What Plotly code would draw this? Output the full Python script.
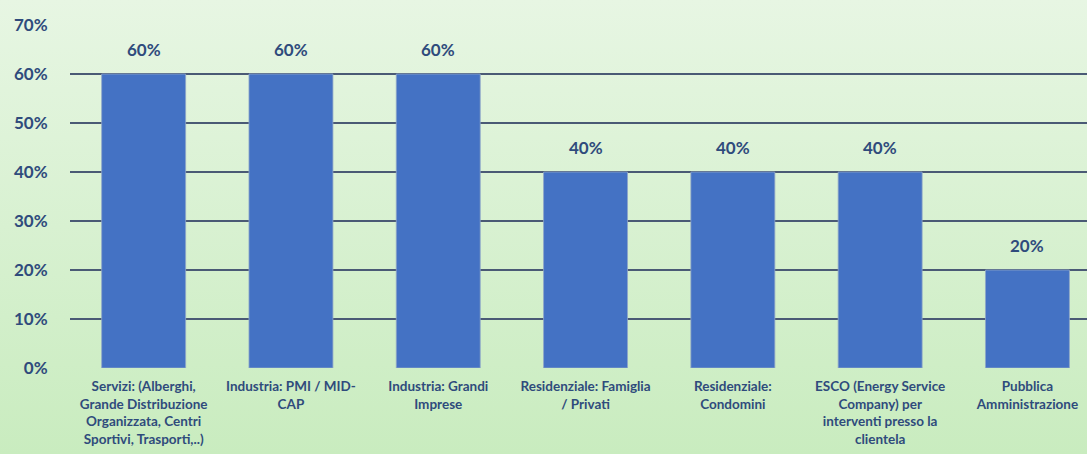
import plotly.graph_objects as go
import base64

categories = [
    "Servizi: (Alberghi,<br>Grande Distribuzione<br>Organizzata, Centri<br>Sportivi, Trasporti,..)",
    "Industria: PMI / MID-<br>CAP",
    "Industria: Grandi<br>Imprese",
    "Residenziale: Famiglia<br>/ Privati",
    "Residenziale:<br>Condomini",
    "ESCO (Energy Service<br>Company) per<br>interventi presso la<br>clientela",
    "Pubblica<br>Amministrazione",
]
values = [0.60, 0.60, 0.60, 0.40, 0.40, 0.40, 0.20]
value_labels = ["60%", "60%", "60%", "40%", "40%", "40%", "20%"]
y_ticks = [0, 0.1, 0.2, 0.3, 0.4, 0.5, 0.6, 0.7]
y_tick_labels = ["0%", "10%", "20%", "30%", "40%", "50%", "60%", "70%"]

W, H = 1087, 454
ML, MR, MT, MB = 70, 0, 25, 86

svg = (
    '<svg xmlns="http://www.w3.org/2000/svg" width="100" height="100" preserveAspectRatio="none">'
    '<defs><linearGradient id="g" x1="0" y1="0" x2="0" y2="1">'
    '<stop offset="0" stop-color="#e7f6e3"/><stop offset="1" stop-color="#c9ecbf"/>'
    '</linearGradient></defs><rect width="100" height="100" fill="url(#g)"/></svg>'
)
src = "data:image/svg+xml;base64," + base64.b64encode(svg.encode()).decode()

pw = W - ML - MR
ph = H - MT - MB

fig = go.Figure()
x_idx = list(range(len(categories)))
fig.add_trace(go.Bar(
    x=x_idx, y=values, width=0.57,
    marker=dict(color="#4472c4", line=dict(color="#8fa6c8", width=0.8)),
    hoverinfo="skip",
))

font_fam = "Lato, 'Open Sans', sans-serif"
txt_col = "#2f4b7c"
for xi, v, lab in zip(x_idx, values, value_labels):
    fig.add_annotation(x=xi, y=v, text=lab, showarrow=False, yanchor="bottom",
                       yshift=12, font=dict(family=font_fam, size=17, color=txt_col, weight="bold"))

fig.update_layout(
    width=W, height=H,
    margin=dict(l=ML, r=MR, t=MT, b=MB),
    paper_bgcolor="rgba(0,0,0,0)", plot_bgcolor="rgba(0,0,0,0)",
    showlegend=False,
    images=[dict(source=src, xref="paper", yref="paper",
                 x=-ML / pw, y=1 + MT / ph, sizex=W / pw, sizey=H / ph,
                 xanchor="left", yanchor="top", sizing="stretch", layer="below")],
)
fig.update_xaxes(
    tickmode="array", tickvals=x_idx, ticktext=categories,
    range=[-0.5, -0.5 + pw / 147.3], showgrid=False, zeroline=False,
    showline=False, tickangle=0, ticks="outside", ticklen=6, tickcolor="rgba(0,0,0,0)",
    tickfont=dict(family=font_fam, size=13.5, color=txt_col, weight="bold"),
)
fig.update_yaxes(
    range=[0, 0.7], tickmode="array", tickvals=y_ticks, ticktext=y_tick_labels,
    showgrid=True, gridcolor="#4a5a75", gridwidth=1.5, zeroline=False,
    showline=False, ticks="outside", ticklen=18, tickcolor="rgba(0,0,0,0)",
    tickfont=dict(family=font_fam, size=17, color=txt_col, weight="bold"),
)

fig.write_html("out.html", config={"displayModeBar": False},
               post_script="document.body.style.margin='0px';document.body.style.overflow='hidden';")
